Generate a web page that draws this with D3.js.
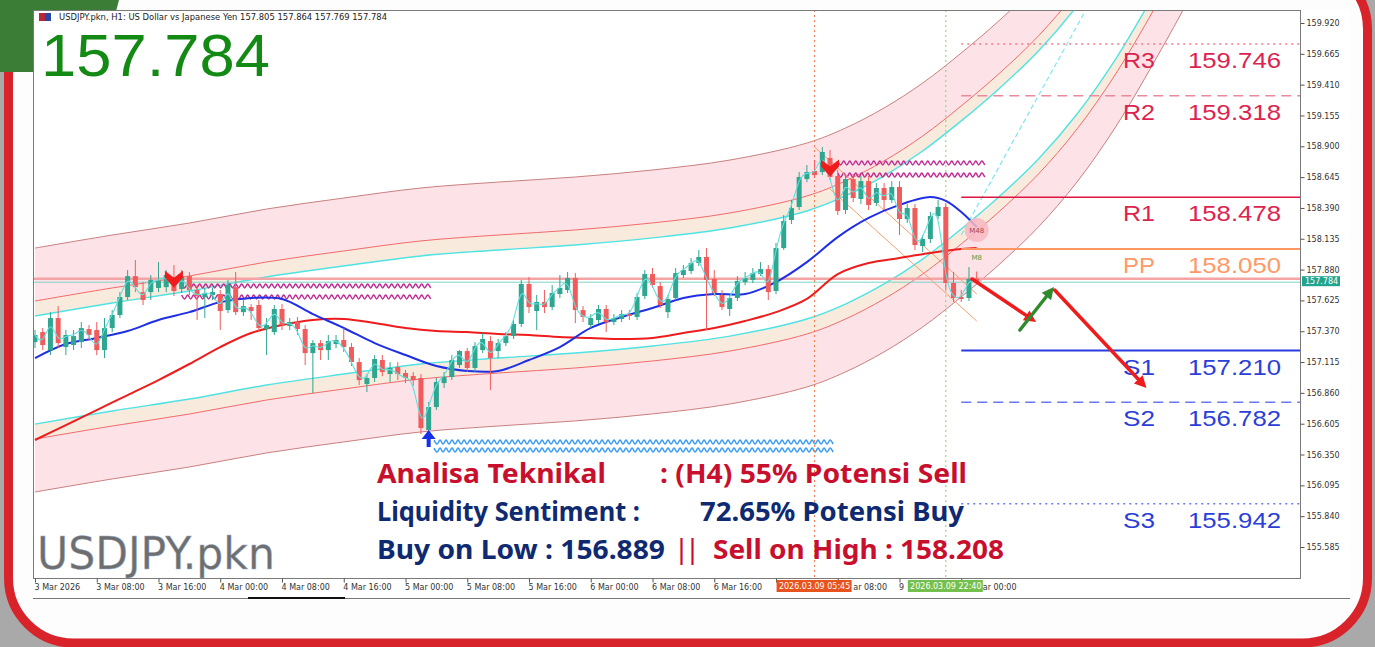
<!DOCTYPE html>
<html>
<head>
<meta charset="utf-8">
<script src="https://cdn.jsdelivr.net/npm/d3@7"></script>
<style>
  html, body { margin: 0; padding: 0; background: #a9a9a9; overflow: hidden; }
  svg { display: block; }
</style>
</head>
<body>
<svg id="chart" width="1375" height="647"></svg>
<script>
// ── USDJPY.pkn H1 — candles, channel, MAs, pivots ───────────────
const openP = [
  157.280,157.363,157.214,157.479,157.239,157.256,157.280,157.388,157.380,157.214,
  157.396,157.504,157.653,157.826,157.694,157.694,157.728,157.735,157.818,157.719,
  157.826,157.711,157.653,157.670,157.678,157.545,157.735,157.528,157.570,157.587,
  157.388,157.363,157.554,157.413,157.446,157.388,157.189,157.272,157.214,157.264,
  157.297,157.239,157.115,156.933,156.983,157.132,157.016,157.074,157.024,157.000,
  156.983,156.553,156.743,156.941,156.991,157.090,157.206,157.066,157.214,157.289,
  157.206,157.272,157.330,157.430,157.761,157.537,157.612,157.570,157.678,157.711,
  157.810,157.545,157.421,157.463,157.554,157.446,157.471,157.512,157.488,157.661,
  157.843,157.744,157.528,157.645,157.835,157.868,157.934,157.984,157.802,157.670,
  157.554,157.645,157.777,157.794,157.843,157.884,157.703,158.058,158.290,158.398,
  158.629,158.695,158.687,158.803,158.654,158.373,158.629,158.464,158.612,158.431,
  158.555,158.456,158.563,158.298,158.389,158.075,158.133,158.323,158.398,157.769,
  157.653,157.645,157.805];
const highP = [
  157.380,157.396,157.528,157.578,157.380,157.380,157.446,157.421,157.446,157.479,
  157.545,157.694,157.876,157.959,157.777,157.835,157.942,157.876,157.918,157.876,
  157.860,157.752,157.728,157.728,157.711,157.794,157.860,157.628,157.595,157.628,
  157.479,157.587,157.595,157.479,157.488,157.421,157.297,157.297,157.339,157.339,
  157.396,157.272,157.148,157.016,157.173,157.173,157.115,157.115,157.049,157.033,
  157.016,156.784,156.983,157.033,157.173,157.214,157.231,157.280,157.355,157.330,
  157.306,157.363,157.463,157.794,157.818,157.670,157.711,157.752,157.835,157.860,
  157.851,157.578,157.512,157.587,157.587,157.512,157.545,157.545,157.686,157.876,
  157.893,157.777,157.670,157.893,157.918,157.976,158.042,158.058,157.876,157.711,
  157.670,157.826,157.860,157.893,157.942,157.918,158.100,158.331,158.456,158.687,
  158.745,158.787,158.894,158.869,158.704,158.671,158.671,158.654,158.654,158.596,
  158.596,158.612,158.612,158.423,158.423,158.166,158.357,158.456,158.431,157.860,
  157.711,157.901,157.864];
const lowP = [
  157.231,157.214,157.173,157.231,157.173,157.214,157.231,157.297,157.173,157.148,
  157.363,157.479,157.628,157.694,157.587,157.628,157.694,157.694,157.661,157.686,
  157.670,157.463,157.479,157.628,157.380,157.520,157.504,157.496,157.463,157.363,
  157.173,157.339,157.380,157.380,157.339,157.090,156.858,157.132,157.132,157.231,
  157.198,157.082,156.925,156.867,156.950,156.999,156.950,156.966,156.941,156.917,
  156.520,156.528,156.718,156.900,156.966,157.066,157.033,157.033,157.189,156.883,
  157.148,157.247,157.306,157.405,157.520,157.380,157.520,157.545,157.645,157.686,
  157.438,157.446,157.396,157.430,157.363,157.421,157.446,157.463,157.463,157.637,
  157.728,157.562,157.479,157.628,157.810,157.843,157.909,157.380,157.661,157.545,
  157.496,157.620,157.752,157.769,157.826,157.628,157.678,158.042,158.257,158.373,
  158.604,158.637,158.662,158.621,158.332,158.340,158.439,158.423,158.373,158.406,
  158.373,158.431,158.166,158.265,158.042,158.025,158.100,158.298,157.711,157.612,
  157.612,157.620,157.769];
const closeP = [
  157.339,157.256,157.479,157.272,157.339,157.330,157.396,157.339,157.214,157.396,
  157.504,157.653,157.826,157.735,157.628,157.794,157.786,157.835,157.703,157.826,
  157.711,157.661,157.686,157.694,157.537,157.752,157.528,157.578,157.537,157.396,
  157.421,157.554,157.421,157.446,157.388,157.189,157.272,157.214,157.289,157.297,
  157.239,157.115,156.966,156.983,157.140,157.033,157.066,157.016,156.983,156.966,
  156.569,156.743,156.950,156.991,157.132,157.206,157.066,157.247,157.306,157.148,
  157.272,157.330,157.430,157.761,157.570,157.612,157.570,157.686,157.728,157.810,
  157.545,157.488,157.479,157.554,157.446,157.479,157.512,157.496,157.653,157.843,
  157.752,157.587,157.637,157.851,157.876,157.934,157.984,157.794,157.686,157.570,
  157.645,157.786,157.810,157.851,157.884,157.694,158.058,158.282,158.389,158.646,
  158.687,158.662,158.853,158.646,158.365,158.629,158.472,158.612,158.414,158.555,
  158.456,158.563,158.298,158.389,158.083,158.133,158.323,158.398,157.769,157.645,
  157.637,157.802,157.784];

// moving averages, read at every 4th bar
const maBlueIdx = [0,4,8,12,16,20,24,28,32,36,40,44,48,52,56,60,64,68,72,76,80,84,88,92,96,100,104,108,112,116,118,120,122];
const maBlue = [157.148,157.264,157.314,157.372,157.463,157.528,157.611,157.645,157.637,157.512,157.397,157.272,157.173,
  157.082,157.041,157.041,157.132,157.239,157.397,157.487,157.562,157.645,157.678,157.678,157.777,157.942,158.149,
  158.307,158.415,158.480,158.448,158.356,158.232];
const maRedIdx = [0,4,8,12,16,20,24,28,32,36,40,44,48,52,56,60,64,68,72,76,80,84,88,92,96,100,104,108,112,116,120,122];
const maRed = [156.470,156.594,156.718,156.842,156.966,157.099,157.239,157.355,157.422,157.463,157.471,157.438,157.397,
  157.372,157.363,157.347,157.339,157.322,157.314,157.305,157.314,157.355,157.397,157.455,157.528,157.637,157.843,
  157.934,157.976,158.017,158.050,158.058];

// curved channel lines (bar index, extends into the future)
const bandIdx = [0,10,20,30,40,50,60,70,80,90,100,105,110,115,120,125,130,135,140,145,150,155];
const upperOuter = [158.058,158.166,158.265,158.381,158.472,158.555,158.604,158.646,158.704,158.786,158.927,159.051,159.217,159.423,159.672,159.945,160.251,160.623,161.078,161.616,162.195,162.815];
const upperMid   = [157.620,157.728,157.827,157.943,158.034,158.117,158.166,158.208,158.266,158.348,158.489,158.613,158.779,158.985,159.234,159.507,159.813,160.185,160.640,161.178,161.757,162.377];
const upperInner = [157.496,157.604,157.703,157.819,157.910,157.993,158.042,158.084,158.142,158.224,158.365,158.489,158.655,158.861,159.110,159.383,159.689,160.061,160.516,161.054,161.633,162.253];
const lowerInner = [156.602,156.710,156.809,156.925,157.016,157.099,157.148,157.190,157.248,157.330,157.471,157.595,157.761,157.967,158.216,158.489,158.795,159.167,159.622,160.160,160.739,161.359];
const lowerMid   = [156.478,156.586,156.685,156.801,156.892,156.975,157.024,157.066,157.124,157.206,157.347,157.471,157.637,157.843,158.092,158.365,158.671,159.043,159.498,160.036,160.615,161.235];
const lowerOuter = [156.040,156.148,156.247,156.363,156.454,156.537,156.586,156.628,156.686,156.768,156.909,157.033,157.199,157.405,157.654,157.927,158.233,158.605,159.060,159.598,160.177,160.797];
// dashed projection line at the top right
const projIdx = [120,136.5];
const projVal = [158.166,160.069];

// pivot levels
const pivotNames  = ["R3","R2","R1","PP","S1","S2","S3"];
const pivotValues = [159.746,159.318,158.478,158.050,157.210,156.782,155.942];

// axes
const yTicks = [159.920,159.665,159.410,159.155,158.900,158.645,158.390,158.135,157.880,157.625,157.370,157.115,156.860,156.605,156.350,156.095,155.840,155.585];
const xTickIdx = [0,8,16,24,32,40,48,56,64,72,80,88,96,104,112,120];
const xLabels = ["3 Mar 2026","3 Mar 08:00","3 Mar 16:00","4 Mar 00:00","4 Mar 08:00","4 Mar 16:00","5 Mar 00:00","5 Mar 08:00",
  "5 Mar 16:00","6 Mar 00:00","6 Mar 08:00","6 Mar 16:00","","ar 08:00","9","ar 00:00"];
const xLabelShift = [0,0,0,0,0,0,0,0,0,0,0,0,0,16,0,22];

// zigzag supply / demand zones: [startIdx, endIdx, price]
const sellZones = [[19,51.5,157.745],[19,51.5,157.653],[104,123.4,158.762],[104,123.4,158.662]];
const buyZones  = [[51.7,103.4,156.453],[51.7,103.4,156.387]];
const downArrows = [[18,157.870],[103,158.790]];
const upArrows   = [[51,156.553]];

// descending channel drawn on the last leg: [idx, price] pairs
const chanA = [[101,158.894],[122,157.678]];
const chanB = [[103,158.547],[122,157.455]];

// forecast arrows
const fcRed1  = [[121.4,157.802],[129.7,157.446]];
const fcGreen = [[127.6,157.380],[132.0,157.735]];
const fcRed2  = [[132.1,157.711],[144.0,156.900]];

const vLines = [{i:101,color:"#f07840",label:"2026.03.09 05:45",bg:"#e8521c"},
                {i:118,color:"#8ccf6a",label:"2026.03.09 22:40",bg:"#74c04e"}];

const bidPrice = 157.784, askPrice = 157.805;

// ── layout ─────────────────────────────────────────────────────
const svg = d3.select("#chart");
const plot = {l:33, t:10, r:1300, b:578};

const x = d3.scaleLinear().domain([0,96]).range([35,776]);
const y = d3.scaleLinear().domain([155.585,159.920]).range([547,23]);

// card
svg.append("rect").attr("x",8.5).attr("y",-36).attr("width",1359).attr("height",679)
  .attr("rx",65).attr("fill","#fdfdfd").attr("stroke","#d8232a").attr("stroke-width",9);
svg.append("path").attr("d","M0,0 L119,0 L100,72 L0,72 Z").attr("fill","#3b7c37");

// chart panel
svg.append("rect").attr("x",33).attr("y",10).attr("width",1317).attr("height",589).attr("fill","#ffffff");

svg.append("defs").append("clipPath").attr("id","plotclip")
  .append("rect").attr("x",plot.l).attr("y",plot.t).attr("width",plot.r-plot.l).attr("height",plot.b-plot.t);
const g = svg.append("g").attr("clip-path","url(#plotclip)");

// channel fills
const band = (a,b) => bandIdx.map((d,k)=>({i:d,a:a[k],b:b[k]}));
const area = d3.area().x(d=>x(d.i)).y0(d=>y(d.a)).y1(d=>y(d.b)).curve(d3.curveCatmullRom);
g.append("path").attr("d",area(band(upperOuter,upperMid))).attr("fill","#fde3e7");
g.append("path").attr("d",area(band(upperMid,upperInner))).attr("fill","#f8eadc");
g.append("path").attr("d",area(band(lowerInner,lowerMid))).attr("fill","#f8eadc");
g.append("path").attr("d",area(band(lowerMid,lowerOuter))).attr("fill","#fde3e7");

const bline = d3.line().x(d=>x(d[0])).y(d=>y(d[1])).curve(d3.curveCatmullRom);
const bandLines = [[upperOuter,"#c98080",1],[upperMid,"#f26a6a",1],[upperInner,"#4fe3e3",1.4],
                   [lowerInner,"#4fe3e3",1.4],[lowerMid,"#f26a6a",1],[lowerOuter,"#c98080",1]];
bandLines.forEach(([arr,c,w]) => {
  g.append("path").attr("d",bline(bandIdx.map((d,k)=>[d,arr[k]])))
    .attr("fill","none").attr("stroke",c).attr("stroke-width",w);
});
g.append("path").attr("d",bline(projIdx.map((d,k)=>[d,projVal[k]])))
  .attr("fill","none").attr("stroke","#7fe6f0").attr("stroke-width",1.2).attr("stroke-dasharray","5,3");

// bid / ask lines
g.append("line").attr("x1",plot.l).attr("x2",plot.r).attr("y1",y(askPrice)).attr("y2",y(askPrice))
  .attr("stroke","#f4a4a4").attr("stroke-width",2.5);
g.append("line").attr("x1",plot.l).attr("x2",plot.r).attr("y1",y(bidPrice)+1).attr("y2",y(bidPrice)+1)
  .attr("stroke","#7fd3c6").attr("stroke-width",1);

// zigzag zones
function zigzag(z, color) {
  const pts = [];
  const x1 = x(z[0]), x2 = x(z[1]), y0 = y(z[2]);
  for (let xx = x1, k = 0; xx <= x2; xx += 3, k++) pts.push([xx, y0 + (k % 2 ? 2 : -2)]);
  g.append("path").attr("d", d3.line().curve(d3.curveCardinal)(pts))
    .attr("fill","none").attr("stroke",color).attr("stroke-width",1.5);
}
sellZones.forEach(z => zigzag(z,"#c02d94"));
buyZones.forEach(z => zigzag(z,"#3c9cf5"));

// vertical dotted lines
vLines.forEach(v => {
  g.append("line").attr("x1",x(v.i)).attr("x2",x(v.i)).attr("y1",plot.t).attr("y2",plot.b)
    .attr("stroke",v.color).attr("stroke-width",1).attr("stroke-dasharray","2,3");
});

// descending channel
[chanA, chanB].forEach(c => {
  g.append("line").attr("x1",x(c[0][0])).attr("y1",y(c[0][1])).attr("x2",x(c[1][0])).attr("y2",y(c[1][1]))
    .attr("stroke","#f3a070").attr("stroke-width",1);
});

// moving averages
const mline = d3.line().x(d=>x(d[0])).y(d=>y(d[1])).curve(d3.curveCatmullRom);
g.append("path").attr("d",mline(maRedIdx.map((d,k)=>[d,maRed[k]])))
  .attr("fill","none").attr("stroke","#ee1c1c").attr("stroke-width",2);
g.append("path").attr("d",mline(maBlueIdx.map((d,k)=>[d,maBlue[k]])))
  .attr("fill","none").attr("stroke","#1f2fe6").attr("stroke-width",2);

// candles
const bars = closeP.map((c,i)=>({i, o:openP[i], h:highP[i], l:lowP[i], c}));
const bull = "#2fa68f", bear = "#f15b5b";
const cg = g.append("g");
cg.selectAll("line.wick").data(bars).join("line").attr("class","wick")
  .attr("x1",d=>x(d.i)).attr("x2",d=>x(d.i)).attr("y1",d=>y(d.h)).attr("y2",d=>y(d.l))
  .attr("stroke",d=>d.c>=d.o?bull:bear).attr("stroke-width",1);
cg.selectAll("rect.body").data(bars).join("rect").attr("class","body")
  .attr("x",d=>x(d.i)-2.5).attr("width",5)
  .attr("y",d=>y(Math.max(d.o,d.c))).attr("height",d=>Math.max(1,Math.abs(y(d.o)-y(d.c))))
  .attr("fill",d=>d.c>=d.o?bull:bear);

// fast line through closes
g.append("path").attr("d",d3.line().x(d=>x(d.i)).y(d=>y(d.c)).curve(d3.curveBasis)(bars))
  .attr("fill","none").attr("stroke","#5fe0e0").attr("stroke-width",1.1);

// signal arrows
downArrows.forEach(([i,p]) => {
  g.append("path").attr("transform",`translate(${x(i)},${y(p)})`)
    .attr("d","M-9,0 L0,7 L9,0 L9,7 L0,17 L-9,7 Z").attr("fill","#f01c1c");
});
upArrows.forEach(([i,p]) => {
  g.append("path").attr("transform",`translate(${x(i)},${y(p)})`)
    .attr("d","M0,0 L7,9 L2,9 L2,17 L-2,17 L-2,9 L-7,9 Z").attr("fill","#1530e8");
});

// MA labels
g.append("circle").attr("cx",x(122)).attr("cy",y(158.232)+3).attr("r",12).attr("fill","#f7b9c2").attr("opacity",0.85);
g.append("text").attr("x",x(122)).attr("y",y(158.232)+6).attr("text-anchor","middle")
  .style("font","7px 'DejaVu Sans'").style("fill","#b04040").text("M48");
g.append("text").attr("x",x(122)).attr("y",y(158.058)+12).attr("text-anchor","middle")
  .style("font","7px 'DejaVu Sans'").style("fill","#5a9a3a").text("M8");

// pivots
const pivStyle = {
  R3:{c:"#f07a8c",dash:"2,4",w:1.5,t:"#dc2450"}, R2:{c:"#ea8a9a",dash:"10,6",w:1.5,t:"#dc2450"},
  R1:{c:"#dd1440",dash:null,w:1.6,t:"#dc2450"}, PP:{c:"#ff9560",dash:null,w:2,t:"#ff9a66"},
  S1:{c:"#2a3ae0",dash:null,w:2,t:"#2b3fd8"}, S2:{c:"#6a78f2",dash:"10,6",w:1.5,t:"#2b3fd8"},
  S3:{c:"#6a78f2",dash:"2,4",w:1.5,t:"#2b3fd8"}};
pivotNames.forEach((n,k) => {
  const s = pivStyle[n], py = y(pivotValues[k]);
  const ln = g.append("line").attr("x1",x(120)).attr("x2",plot.r).attr("y1",py).attr("y2",py)
    .attr("stroke",s.c).attr("stroke-width",s.w);
  if (s.dash) ln.attr("stroke-dasharray",s.dash);
  g.append("text").attr("x",1123).attr("y",py+24).attr("textLength",32).attr("lengthAdjust","spacingAndGlyphs")
    .style("font","22px 'Liberation Sans'").style("fill",s.t).text(n);
  g.append("text").attr("x",1188).attr("y",py+24).attr("textLength",93).attr("lengthAdjust","spacingAndGlyphs")
    .style("font","22px 'Liberation Sans'").style("fill",s.t).text(pivotValues[k].toFixed(3));
});

// forecast arrows
function fcArrow(seg, color) {
  const x1 = x(seg[0][0]), y1 = y(seg[0][1]), x2 = x(seg[1][0]), y2 = y(seg[1][1]);
  const a = Math.atan2(y2-y1, x2-x1), L = 12, W = 6;
  const bx = x2 - L*Math.cos(a), by = y2 - L*Math.sin(a);
  g.append("line").attr("x1",x1).attr("y1",y1).attr("x2",bx).attr("y2",by)
    .attr("stroke",color).attr("stroke-width",3.5).attr("stroke-linecap","round");
  g.append("path").attr("d",`M${x2},${y2} L${bx + W*Math.sin(a)},${by - W*Math.cos(a)} L${bx - W*Math.sin(a)},${by + W*Math.cos(a)} Z`)
    .attr("fill",color);
}
fcArrow(fcRed1,"#ee1c1c");
fcArrow(fcGreen,"#2e8b2e");
fcArrow(fcRed2,"#ee1c1c");

// header texts
g.append("rect").attr("x",39).attr("y",13).attr("width",6).attr("height",8).attr("fill","#b8283a");
g.append("rect").attr("x",45).attr("y",13).attr("width",6).attr("height",8).attr("fill","#2848a8");
g.append("text").attr("x",59).attr("y",19.5).attr("textLength",328).attr("lengthAdjust","spacingAndGlyphs")
  .style("font","9px 'DejaVu Sans'").style("fill","#222")
  .text("USDJPY.pkn, H1:  US Dollar vs Japanese Yen  157.805 157.864 157.769 157.784");
g.append("text").attr("x",41).attr("y",76).attr("textLength",229).attr("lengthAdjust","spacingAndGlyphs")
  .style("font","60px 'Liberation Sans'").style("fill","#138a13").text("157.784");
g.append("text").attr("x",37).attr("y",569).attr("textLength",238).attr("lengthAdjust","spacingAndGlyphs")
  .style("font","44px 'DejaVu Sans'").style("fill","#6e6e6e").style("stroke","#9ab0d0").style("stroke-width",0.4)
  .text("USDJPY.pkn");

// analysis text block
const txt = [
  ["Analisa Teknikal",377,606,483,"#c8102e"], [": (H4) 55% Potensi Sell",660,967,483,"#c8102e"],
  ["Liquidity Sentiment :",377,640,521,"#0f2a70"], ["72.65% Potensi Buy",700,964,521,"#0f2a70"],
  ["Buy on Low : 156.889",377,665,559,"#0f2a70"], ["||",676,698,559,"#c8102e"],
  ["Sell on High : 158.208",713,1004,559,"#c8102e"]];
txt.forEach(([t,x1,x2,by,c]) => {
  g.append("text").attr("x",x1).attr("y",by).attr("textLength",x2-x1).attr("lengthAdjust","spacingAndGlyphs")
    .style("font","bold 27px 'Noto Sans'").style("fill",c).text(t);
});

// plot border
svg.append("rect").attr("x",plot.l+0.5).attr("y",plot.t+0.5).attr("width",plot.r-plot.l).attr("height",plot.b-plot.t)
  .attr("fill","none").attr("stroke","#7a7a7a").attr("stroke-width",1);

// right axis
const ya = svg.append("g").attr("transform",`translate(${plot.r+0.5},0)`)
  .call(d3.axisRight(y).tickValues(yTicks).tickFormat(d3.format(".3f")).tickSize(4).tickPadding(2));
ya.select(".domain").remove();
ya.selectAll("line").attr("stroke","#555");
ya.selectAll("text").style("font","8px 'DejaVu Sans'").style("fill","#333");

// current price tag
svg.append("rect").attr("x",1302).attr("y",y(bidPrice)-5).attr("width",38).attr("height",10).attr("fill","#22a58e");
svg.append("text").attr("x",1305).attr("y",y(bidPrice)+3).style("font","8px 'DejaVu Sans'").style("fill","#fff").text("157.784");

// bottom axis (labels hidden behind the time tags show only their visible parts)
const xa = svg.append("g").attr("transform",`translate(0,${plot.b+0.5})`)
  .call(d3.axisBottom(x).tickValues(xTickIdx).tickFormat((d,k)=>xLabels[k]).tickSize(4).tickPadding(2));
xa.select(".domain").remove();
xa.selectAll("line").attr("stroke","#555");
xa.selectAll("text").attr("text-anchor","start").attr("dx",(d,k)=>-1+xLabelShift[k])
  .style("font","8px 'DejaVu Sans'").style("fill","#333");

vLines.forEach(v => {
  svg.append("rect").attr("x",x(v.i)-38).attr("y",580).attr("width",75).attr("height",12).attr("fill",v.bg);
  svg.append("text").attr("x",x(v.i)).attr("y",589).attr("text-anchor","middle")
    .style("font","8px 'DejaVu Sans'").style("fill","#fff").text(v.label);
});

// bottom frame line + scroll marker
svg.append("line").attr("x1",33).attr("x2",1350).attr("y1",598.5).attr("y2",598.5).attr("stroke","#777");
svg.append("line").attr("x1",248).attr("x2",345).attr("y1",598).attr("y2",598).attr("stroke","#111").attr("stroke-width",2);
</script>
</body>
</html>
